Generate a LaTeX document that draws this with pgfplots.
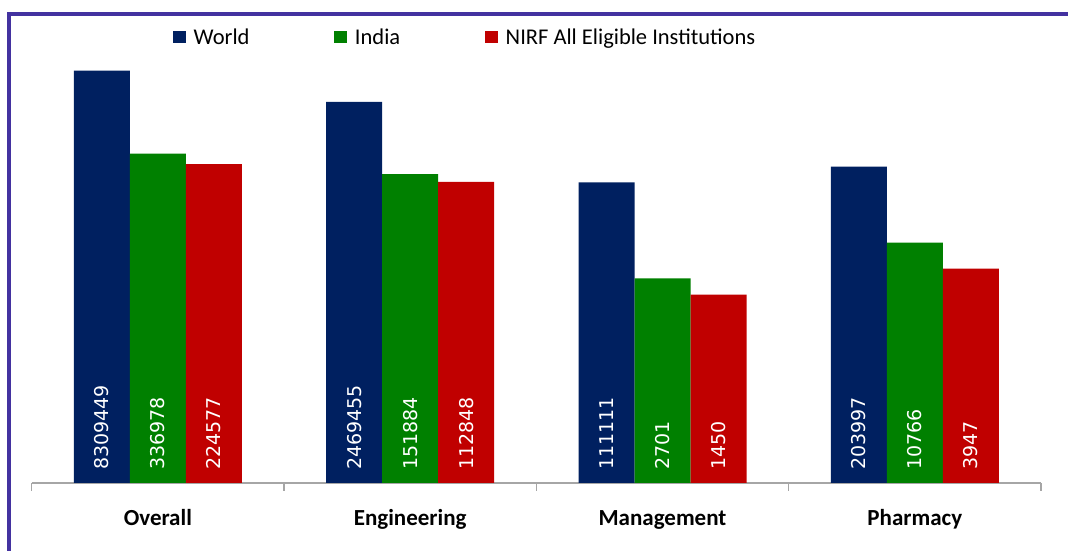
\documentclass[border=0pt]{standalone}
\usepackage{fontspec}
\setmainfont{Carlito}
\newfontfamily\numfont{DejaVu Sans}
\usepackage{pgfplots}
\usepackage{pgfplotstable}
\pgfplotsset{compat=1.18}
\definecolor{worldC}{HTML}{002060}
\definecolor{indiaC}{HTML}{008000}
\definecolor{nirfC}{HTML}{C00000}
\definecolor{frameC}{HTML}{4332A0}
\definecolor{axisC}{HTML}{A6A6A6}

% counts per category (log-scaled bars)
\pgfplotstableread{
x world india nirf
0 8309449 336978 224577
1 2469455 151884 112848
2 111111 2701 1450
3 203997 10766 3947
}\counts

\begin{document}
\begin{tikzpicture}[x=1pt,y=1pt]
  \useasboundingbox (0,0) rectangle (1068,551);
  % outer frame (top and left edges visible)
  \draw[frameC, line width=3.5pt] (7,537.2) -- (1068,537.2);
  \draw[frameC, line width=3.5pt] (9.2,539) -- (9.2,0);
  \begin{axis}[
      at={(31.7pt,68pt)}, anchor=south west,
      scale only axis,
      width=1009.3pt, height=447pt,
      ymode=log, ymin=1, ymax=3.1623e7,
      xmin=-0.5, xmax=3.5,
      ybar, bar width=56pt,
      hide y axis,
      axis x line=bottom,
      x axis line style={-, axisC, line width=1.3pt},
      xtick={0,1,2,3},
      xticklabels={Overall,Engineering,Management,Pharmacy},
      major tick length=0pt,
      xticklabel style={anchor=base, yshift=-43pt,
        font=\bfseries\fontsize{23}{23}\selectfont},
      extra x ticks={-0.5,0.5,1.5,2.5,3.5},
      extra x tick labels={},
      extra x tick style={major tick length=8pt, tick align=outside,
        tick style={axisC, line width=1.3pt}},
      point meta=explicit symbolic,
      visualization depends on={y \as \ly},
      nodes near coords={\pgfplotspointmeta},
      every node near coord/.append style={
        yshift={(13-\ly*25.885)*1pt}, rotate=90, anchor=west,
        inner sep=0pt, text=white,
        font=\numfont\fontsize{19}{19}\selectfont},
      legend columns=-1,
      legend style={at={(rel axis cs:0.140,0.9978)}, anchor=west,
        draw=none, fill=none, inner sep=0pt,
        font=\fontsize{22.5}{22.5}\selectfont,
        /tikz/every odd column/.append style={column sep=6pt},
        /tikz/every even column/.append style={column sep=83pt}},
      legend image code/.code={\fill[#1, draw=none] (0pt,-6pt) rectangle (12.5pt,6pt);},
      clip=false,
    ]
    \addplot[fill=worldC, draw=none, bar shift=-56pt]
      table[x=x, y=world, meta=world] {\counts};
    \addlegendentry{World}
    \addplot[fill=indiaC, draw=none, bar shift=0pt]
      table[x=x, y=india, meta=india] {\counts};
    \addlegendentry{India}
    \addplot[fill=nirfC, draw=none, bar shift=56pt]
      table[x=x, y=nirf, meta=nirf] {\counts};
    \addlegendentry{NIRF All Eligible Institutions}
  \end{axis}
\end{tikzpicture}
\end{document}
